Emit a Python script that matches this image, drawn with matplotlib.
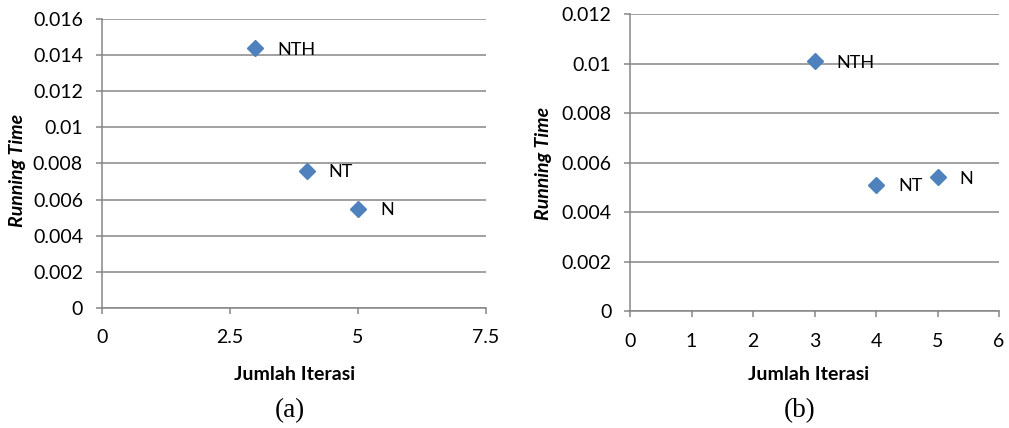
import matplotlib
matplotlib.use("Agg")
import matplotlib.pyplot as plt
from matplotlib.ticker import FuncFormatter

# data (a) and (b)
labels = ["NTH", "NT", "N"]
iter_a = [3, 4, 5]
time_a = [0.0144, 0.0076, 0.0055]
iter_b = [3, 4, 5]
time_b = [0.0101, 0.0051, 0.0054]

xticks_a = [0, 2.5, 5, 7.5]
yticks_a = [0, 0.002, 0.004, 0.006, 0.008, 0.01, 0.012, 0.014, 0.016]
xticks_b = [0, 1, 2, 3, 4, 5, 6]
yticks_b = [0, 0.002, 0.004, 0.006, 0.008, 0.01, 0.012]

plt.rcParams['font.family'] = ['Lato', 'DejaVu Sans']
GRIS = '#868686'
AZUL = '#4F81BD'

fig = plt.figure(figsize=(10.09, 4.28), dpi=100)


def fmt(v, pos):
    return f"{round(v, 4):g}"


def panel(rect, xs, ys, xt, yt, letra, xlab_pos, ylab_pos, cap_pos):
    ax = fig.add_axes(rect)
    ax.plot(xs, ys, 'D', color=AZUL, markersize=8, zorder=3, clip_on=False)
    for x, y, t in zip(xs, ys, labels):
        ax.annotate(t, (x, y), xytext=(16, -1), textcoords='offset points',
                    va='center', ha='left', fontsize=13)
    ax.set_xlim(xt[0], xt[-1])
    ax.set_ylim(yt[0], yt[-1])
    ax.set_xticks(xt)
    ax.set_yticks(yt)
    ax.xaxis.set_major_formatter(FuncFormatter(fmt))
    ax.yaxis.set_major_formatter(FuncFormatter(fmt))
    ax.grid(axis='y', color=GRIS, linewidth=1.1)
    ax.set_axisbelow(True)
    for s in ['top', 'right']:
        ax.spines[s].set_visible(False)
    for s in ['left', 'bottom']:
        ax.spines[s].set_color(GRIS)
        ax.spines[s].set_linewidth(1.1)
    ax.tick_params(colors=GRIS, labelcolor='black', labelsize=14,
                   length=4.5, width=1.1)
    ax.tick_params(axis='x', pad=11)
    ax.tick_params(axis='y', pad=9)
    fig.text(xlab_pos[0] / 1009, 1 - xlab_pos[1] / 428, 'Jumlah Iterasi',
             fontsize=14, fontweight='bold', ha='center', va='center')
    fig.text(ylab_pos[0] / 1009, 1 - ylab_pos[1] / 428, 'Running Time',
             fontsize=14, fontweight='bold', style='italic', rotation=90,
             ha='center', va='center')
    fig.text(cap_pos[0] / 1009, 1 - cap_pos[1] / 428, letra,
             family='Liberation Serif', fontsize=19.5, ha='center', va='center')
    return ax


panel([0.1008, 0.2811, 0.3806, 0.6738], iter_a, time_a, xticks_a, yticks_a,
      '(a)', (295, 375), (18, 170), (290, 411))
panel([0.6244, 0.2734, 0.3657, 0.6932], iter_b, time_b, xticks_b, yticks_b,
      '(b)', (809, 375), (543, 163), (800, 411))

fig.savefig('out.png', dpi=100)
